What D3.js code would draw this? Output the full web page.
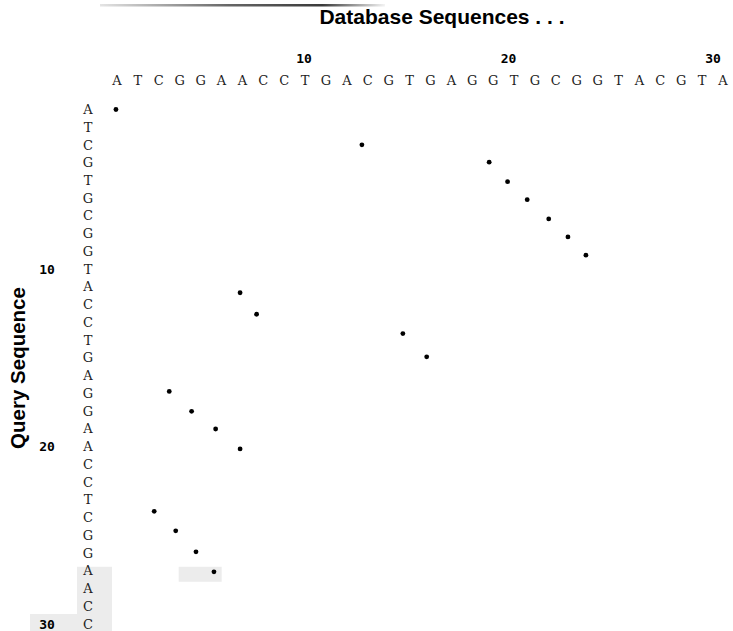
<!DOCTYPE html>
<html lang="en">
<head>
<meta charset="UTF-8">
<title>Dot plot</title>
<script src="https://d3js.org/d3.v7.min.js"></script>
<style>
  body { margin: 0; background: #fff; }
</style>
</head>
<body>
<div id="chart"></div>
<script>
// database sequence along the top, query sequence down the side
var dbSeq = "ATCGGAACCTGACGTGAGGTGCGGTACGTA".split("");
var querySeq = "ATCGTGCGGTACCTGAGGAACCTCGGAACC".split("");
var tickLabels = [10, 20, 30];

// match dots, positions read along each sequence (as drawn)
var dotDb    = [0.95, 12.72, 18.81, 19.69, 20.63, 21.66, 22.58, 23.44, 6.89, 7.68, 14.68, 15.82, 3.50, 4.57, 5.72, 6.89, 2.78, 3.81, 4.78, 5.64];
var dotQuery = [1.0, 2.99, 3.97, 5.07, 6.08, 7.17, 8.18, 9.21, 11.33, 12.54, 13.63, 14.94, 16.89, 18.01, 19.01, 20.13, 23.65, 24.75, 25.93, 27.06];

var W = 733, H = 631;

var svg = d3.select("#chart").append("svg")
    .attr("width", W)
    .attr("height", H);

// scales
var x = d3.scaleLinear().domain([1, 30]).range([117, 723]);
var y = d3.scaleLinear().domain([1, 30]).range([109.5, 624]);
var xTick = d3.scaleLinear().domain([10, 30]).range([304, 713]);

var seqFont = "'DejaVu Serif', 'Liberation Serif', serif";
var numFont = "'DejaVu Sans Mono', monospace";
var headFont = "'Liberation Sans', Arial, sans-serif";

// faded rule at the very top
var grad = svg.append("defs").append("linearGradient")
    .attr("id", "rule")
    .attr("x1", "0%").attr("x2", "100%");
grad.append("stop").attr("offset", "0%").attr("stop-color", "#e4e4e4");
grad.append("stop").attr("offset", "45%").attr("stop-color", "#666");
grad.append("stop").attr("offset", "78%").attr("stop-color", "#3a3a3a");
grad.append("stop").attr("offset", "100%").attr("stop-color", "#f4f4f4");
svg.append("rect")
    .attr("x", 100).attr("y", 4)
    .attr("width", 285).attr("height", 2.5)
    .attr("fill", "url(#rule)");

// grey highlight patches (rows 27-30)
svg.append("rect")
    .attr("x", 77).attr("y", y(27) - 4)
    .attr("width", 35).attr("height", H - (y(27) - 4))
    .attr("fill", "#ececec");
svg.append("rect")
    .attr("x", 30).attr("y", y(30) - 10)
    .attr("width", 50).attr("height", H - (y(30) - 10))
    .attr("fill", "#ececec");
svg.append("rect")
    .attr("x", x(4) - 1).attr("y", y(27) - 4)
    .attr("width", 43).attr("height", 15)
    .attr("fill", "#ececec");

// titles
svg.append("text")
    .attr("x", 442).attr("y", 24)
    .attr("text-anchor", "middle")
    .style("font-family", headFont)
    .style("font-weight", "bold")
    .style("font-size", "21px")
    .text("Database Sequences . . .");

svg.append("text")
    .attr("transform", "translate(25,368) rotate(-90)")
    .attr("text-anchor", "middle")
    .style("font-family", headFont)
    .style("font-weight", "bold")
    .style("font-size", "20.5px")
    .text("Query Sequence");

// top tick numbers
svg.selectAll(".xt")
    .data(tickLabels)
    .enter().append("text")
    .attr("class", "xt")
    .attr("x", function(d) { return xTick(d); })
    .attr("y", 58)
    .attr("dy", "0.35em")
    .attr("text-anchor", "middle")
    .style("font-family", numFont)
    .style("font-weight", "bold")
    .style("font-size", "13px")
    .text(function(d) { return d; });

// left tick numbers
svg.selectAll(".yt")
    .data(tickLabels)
    .enter().append("text")
    .attr("class", "yt")
    .attr("x", 47)
    .attr("y", function(d) { return y(d); })
    .attr("dy", "0.35em")
    .attr("text-anchor", "middle")
    .style("font-family", numFont)
    .style("font-weight", "bold")
    .style("font-size", "13px")
    .text(function(d) { return d; });

// database letters
svg.selectAll(".db")
    .data(dbSeq)
    .enter().append("text")
    .attr("class", "db")
    .attr("x", function(d, i) { return x(i + 1); })
    .attr("y", 80)
    .attr("dy", "0.35em")
    .attr("text-anchor", "middle")
    .style("font-family", seqFont)
    .style("font-size", "13px")
    .style("fill", "#222")
    .text(function(d) { return d; });

// query letters
svg.selectAll(".q")
    .data(querySeq)
    .enter().append("text")
    .attr("class", "q")
    .attr("x", 88)
    .attr("y", function(d, i) { return y(i + 1); })
    .attr("dy", "0.35em")
    .attr("text-anchor", "middle")
    .style("font-family", seqFont)
    .style("font-size", "13px")
    .style("fill", "#222")
    .text(function(d) { return d; });

// match dots
svg.selectAll(".dot")
    .data(dotDb)
    .enter().append("circle")
    .attr("class", "dot")
    .attr("cx", function(d) { return x(d); })
    .attr("cy", function(d, i) { return y(dotQuery[i]); })
    .attr("r", 2.4)
    .attr("fill", "#000");
</script>
</body>
</html>
